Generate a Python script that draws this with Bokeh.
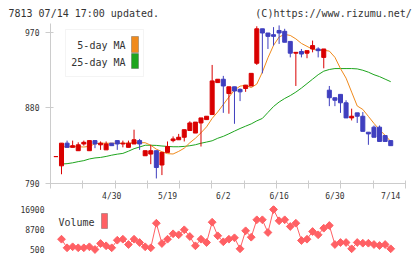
import math
import numpy as np
from bokeh.plotting import figure
from bokeh.layouts import column
from bokeh.models import Range1d, FixedTicker, Label, BoxAnnotation, ColumnDataSource
from bokeh.embed import file_html
from bokeh.resources import INLINE

# ---------------- data ----------------
day_index = list(range(-1, 60))
label_index = [9, 19, 29, 39, 49, 59]
label_text = ["4/30", "5/19", "6/2", "6/16", "6/30", "7/14"]
title_left = "7813 07/14 17:00 updated."
title_right = "(C)https://www.rizumu.net/"

open_ = [822, 811, 838, 833, 829, 837, 829, 841, 836, 830, 838, 841, 837, 833, 837, 841,
         823, 825, 829, 812, 827, 841, 842, 845, 853, 850, 862, 866, 872, 910, 914, 897,
         905, 902, 903, 906, 933, 974, 969, 967, 972, 971, 959, 945, 947, 945, 950, 950,
         940, 901, 892, 896, 886, 868, 874, 870, 851, 857, 857, 847, 841]
high = [822, 838, 841, 841, 839, 841, 841, 841, 840, 840, 838, 841, 841, 841, 854, 843,
        829, 836, 829, 827, 840, 846, 849, 854, 864, 863, 868, 870, 931, 914, 918, 905,
        905, 903, 907, 921, 977, 974, 969, 976, 978, 974, 959, 946, 950, 948, 960, 952,
        950, 906, 892, 896, 889, 879, 874, 875, 851, 859, 859, 847, 841]
low = [822, 801, 833, 833, 829, 835, 829, 832, 830, 830, 835, 830, 833, 833, 837, 830,
       823, 813, 796, 800, 827, 839, 842, 840, 853, 850, 834, 866, 872, 910, 874, 873,
       861, 888, 899, 906, 931, 921, 950, 954, 956, 958, 940, 906, 940, 939, 946, 940,
       927, 882, 882, 874, 868, 865, 862, 852, 836, 845, 840, 840, 835]
close = [822, 838, 833, 835, 836, 839, 841, 837, 838, 837, 835, 837, 838, 838, 842, 837,
         829, 829, 809, 827, 834, 843, 845, 854, 862, 863, 868, 870, 912, 914, 906, 905,
         900, 899, 907, 921, 974, 969, 965, 965, 969, 958, 945, 946, 944, 948, 954, 948,
         950, 892, 889, 886, 868, 870, 870, 852, 849, 845, 840, 840, 835]

ma5 = [float("nan"),
       833.7, 833.4, 833.7, 833.7, 833.4, 834.1, 837.3, 837.9, 837.9, 837.9,
       837.9, 837.9, 837.9, 838.5, 838.5, 838.5, 835.5, 830.8, 827.8, 825.5,
       825.1, 828.2, 832.0, 838.5, 843.8, 850.3, 857.4, 867.4, 875.1, 884.0,
       892.8, 901.1, 905.8, 906.7, 904.1, 908.2, 922.4, 939.5, 954.3, 964.3,
       967.3, 966.1, 962.0, 956.6, 953.1, 949.6, 948.4, 948.4, 947.5, 940.1,
       926.7, 915.3, 898.7, 882.2, 878.1, 869.8, 861.5, 853.8, 847.3, 840.0]
ma25 = [float("nan"),
        813.1, 813.6, 814.6, 816.0, 817.2, 819.2, 820.4, 821.0, 822.2, 823.7,
        824.9, 825.8, 828.4, 831.4, 833.4, 835.5, 835.5, 835.3, 834.6, 834.1,
        833.7, 833.7, 834.1, 834.9, 836.1, 837.9, 839.3, 840.8, 843.8, 846.1,
        849.1, 852.3, 855.4, 858.2, 860.9, 864.5, 867.4, 874.5, 881.6, 886.9,
        891.1, 894.6, 898.7, 903.5, 908.8, 914.1, 919.4, 923.6, 925.6, 926.7,
        926.7, 926.7, 926.7, 926.3, 924.7, 922.4, 919.4, 917.1, 914.1, 911.1]
volume = [float("nan"),
          4720, 1200, 1610, 1200, 1200, 1610, 500, 2960, 2020, 1200,
          4310, 4720, 2550, 4720, 3370, 1610, 1200, 11280, 2960, 4720,
          6940, 6530, 8580, 5830, 2020, 4720, 3370, 11690, 6120, 3660,
          4720, 5300, 790, 8170, 5540, 12680, 12680, 7470, 16900, 12270,
          12680, 9930, 11280, 4190, 4720, 7880, 6530, 9230, 10340, 2550,
          3370, 3370, 790, 3370, 3080, 3080, 2550, 2140, 2550, 790]

price_ticks = [790, 880, 970]
volume_ticks = [500, 8700, 16900]

# ---------------- styles ----------------
RED = "#d90000"
BLUE = "#3f3fbf"
ORANGE = "#f08a1c"
GREEN = "#1ea51e"
VOLC = "#ff6064"
AXIS = "#cccccc"
TXT = "#333333"
FONT = "DejaVu Sans Mono"

x_start, x_end = -1.97, 61.65

colors = [RED if c >= o else BLUE for o, c in zip(open_, close)]
src = ColumnDataSource(dict(
    x=day_index, o=open_, h=high, l=low, c=close,
    top=[max(o, c) for o, c in zip(open_, close)],
    bot=[min(o, c) for o, c in zip(open_, close)],
    color=colors, ma5=ma5, ma25=ma25, vol=volume))

p = figure(width=420, height=203, x_range=Range1d(x_start, x_end),
           y_range=Range1d(790, 980.3), output_backend="svg", toolbar_location=None,
           min_border_left=50, min_border_right=15, min_border_top=23, min_border_bottom=19)
p.grid.visible = False
p.outline_line_color = None
p.background_fill_color = "white"

p.title.text = title_left + "\u00a0" * 16 + title_right
p.title.text_font = FONT
p.title.text_font_size = "10px"
p.title.text_font_style = "normal"
p.title.text_color = TXT
p.title.align = "left"
p.title.offset = -42
p.title.standoff = 9

p.line("x", "ma25", source=src, color=GREEN, line_width=1)
p.line("x", "ma5", source=src, color=ORANGE, line_width=1)
p.segment(x0="x", y0="l", x1="x", y1="h", source=src, color="color", line_width=1)
p.vbar(x="x", bottom="bot", top="top", width=0.72, source=src,
       fill_color="color", line_color="color", line_width=1)

p.yaxis.ticker = FixedTicker(ticks=price_ticks)
p.yaxis.major_tick_in = 3
p.yaxis.major_tick_out = 5
p.yaxis.minor_tick_line_color = None
p.yaxis.axis_line_color = AXIS
p.yaxis.major_tick_line_color = AXIS
p.yaxis.major_label_text_font = FONT
p.yaxis.major_label_text_font_size = "8px"
p.yaxis.major_label_text_color = TXT
p.yaxis.major_label_standoff = 6

grid_ticks = list(np.linspace(x_start + 1e-6, x_end - 1e-6, 12))
p.xaxis.ticker = FixedTicker(ticks=label_index, minor_ticks=grid_ticks)
p.xaxis.major_label_overrides = {i: t for i, t in zip(label_index, label_text)}
p.xaxis.major_tick_line_color = None
p.xaxis.major_tick_in = 0
p.xaxis.major_tick_out = 0
p.xaxis.minor_tick_in = 3
p.xaxis.minor_tick_out = 5
p.xaxis.minor_tick_line_color = AXIS
p.xaxis.axis_line_color = AXIS
p.xaxis.major_label_text_font = FONT
p.xaxis.major_label_text_font_size = "8px"
p.xaxis.major_label_text_color = TXT
p.xaxis.major_label_standoff = 3

# legend
p.add_layout(BoxAnnotation(left=15, right=93, bottom=107, top=154,
                           left_units="screen", right_units="screen",
                           bottom_units="screen", top_units="screen",
                           fill_color="white", fill_alpha=1, line_color="#d9d9d9", line_width=1))
for txt, yy, col, b, t in [("5-day MA", 138, ORANGE, 131, 147), ("25-day MA", 121, GREEN, 115, 130)]:
    p.add_layout(Label(x=75, y=yy, x_units="screen", y_units="screen", text=txt,
                       text_font=FONT, text_font_size="10px", text_color=TXT,
                       text_baseline="middle", text_align="right"))
    p.add_layout(BoxAnnotation(left=81, right=88, bottom=b, top=t,
                               left_units="screen", right_units="screen",
                               bottom_units="screen", top_units="screen",
                               fill_color=col, fill_alpha=1, line_color="#333333", line_width=1))

# ---------------- volume ----------------
v = figure(width=420, height=56, x_range=p.x_range, y_range=Range1d(-1960, 18540),
           output_backend="svg", toolbar_location=None,
           min_border_left=50, min_border_right=15, min_border_top=2, min_border_bottom=4)
v.grid.visible = False
v.outline_line_color = None
v.xaxis.visible = False
v.yaxis.ticker = FixedTicker(ticks=volume_ticks)
v.yaxis.axis_line_color = None
v.yaxis.major_tick_line_color = None
v.yaxis.minor_tick_line_color = None
v.yaxis.major_tick_out = 0
v.yaxis.major_tick_in = 0
v.yaxis.major_label_text_font = FONT
v.yaxis.major_label_text_font_size = "8px"
v.yaxis.major_label_text_color = TXT
v.yaxis.major_label_standoff = 6

v.line("x", "vol", source=src, color=VOLC, line_width=1)
v.scatter("x", "vol", source=src, marker="square", angle=math.pi / 4, size=5.5,
          fill_color=VOLC, line_color=VOLC)

v.add_layout(Label(x=8, y=33, x_units="screen", y_units="screen", text="Volume",
                   text_font=FONT, text_font_size="10px", text_color=TXT, text_baseline="middle"))
v.add_layout(BoxAnnotation(left=51, right=57, bottom=27, top=42,
                           left_units="screen", right_units="screen",
                           bottom_units="screen", top_units="screen",
                           fill_color=VOLC, fill_alpha=1, line_color="#333333", line_width=1))

layout = column(p, v)
open("out.html", "w").write(file_html(layout, INLINE))
